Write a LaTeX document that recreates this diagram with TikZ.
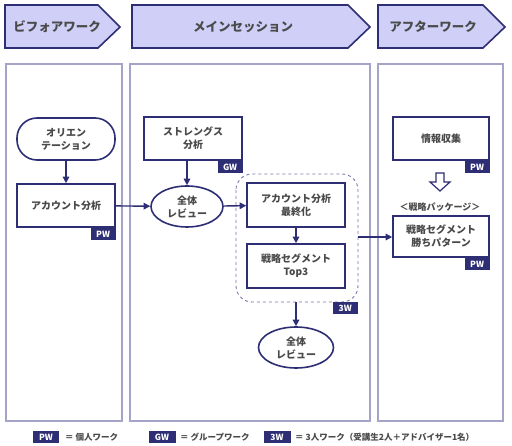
\documentclass[tikz,border=0pt]{standalone}
\usepackage{fontspec}
\setmainfont{Noto Sans CJK JP}
\usetikzlibrary{arrows.meta,shapes.geometric,positioning}
\definecolor{navy}{HTML}{2E2E74}
\definecolor{hdrfill}{HTML}{CFCFF8}
\definecolor{txt}{HTML}{4A4A4A}
\definecolor{panel}{HTML}{A4A4C8}
\definecolor{dash}{HTML}{7878AC}
\tikzset{
  hdr/.style={draw=navy,fill=hdrfill,line width=1.6pt,line join=miter},
  hdrtxt/.style={text=txt,font=\fontsize{12.5}{14}\selectfont\bfseries},
  pnl/.style={draw=panel,line width=1.2pt},
  box/.style={draw=navy,fill=white,line width=1.6pt,minimum width=98pt,minimum height=43pt,inner sep=0pt,align=center,text=txt,font=\fontsize{10}{13}\selectfont\bfseries},
  stadium/.style={box,rounded corners=20pt},
  oval/.style={draw=navy,fill=white,line width=1.6pt,ellipse,inner sep=0pt,align=center,text=txt,font=\fontsize{10}{13}\selectfont\bfseries},
  tag/.style={fill=navy,text=white,minimum width=25pt,minimum height=12pt,inner sep=0pt,font=\fontsize{8.5}{9}\selectfont\bfseries},
  arr/.style={draw=navy,line width=1.4pt,-{Triangle[length=6.5pt,width=6.5pt]}},
  lgd/.style={text=txt,anchor=west,inner sep=0pt,font=\fontsize{8.5}{10}\selectfont\bfseries}
}
\begin{document}
\begin{tikzpicture}[x=1pt,y=-1pt]
\useasboundingbox (0,0) rectangle (512,446);
% headers
\draw[hdr] (5,5) -- (98,5) -- (120,27) -- (98,48) -- (5,48) -- cycle;
\node[hdrtxt] (h1) at (57,27) {ビフォアワーク};
\draw[hdr] (132,5) -- (348,5) -- (370,27) -- (348,48) -- (132,48) -- cycle;
\node[hdrtxt] (h2) at (243,27) {メインセッション};
\draw[hdr] (378,5) -- (483,5) -- (505,27) -- (483,48) -- (378,48) -- cycle;
\node[hdrtxt] (h3) at (433,27) {アフターワーク};
% panels
\draw[pnl] (6,64) rectangle (122,421);
\draw[pnl] (130,64) rectangle (370,421);
\draw[pnl] (378,64) rectangle (503,421);
% dashed group
\draw[draw=dash,line width=0.9pt,dashed,rounded corners=16pt] (236,174) rectangle (358,302);
\coordinate (gS) at (296,302);
\coordinate (gE) at (358,237);
\node[tag,anchor=north east] (t3w) at (358,302) {3W};
% nodes
\node[stadium,minimum height=42pt] (orient) at (66,139) {オリエン\\テーション};
\node[box] (acct) at (66,205.5) {アカウント分析};
\node[tag,anchor=north east] (tacct) at (acct.south east) {PW};
\node[box] (str) at (193,138.5) {ストレングス\\分析};
\node[tag,anchor=north east] (tstr) at (str.south east) {GW};
\node[oval,minimum width=72pt,minimum height=41pt] (rev1) at (187,206.5) {全体\\レビュー};
\node[box,minimum height=44pt] (fin) at (296,205) {アカウント分析\\最終化};
\node[box,minimum height=44pt] (top3) at (296,266) {戦略セグメント\\Top3};
\node[oval,minimum width=75pt,minimum height=41pt] (rev2) at (296,347.5) {全体\\レビュー};
\node[box,minimum width=96pt] (info) at (441,138.5) {情報収集};
\node[tag,anchor=north east] (tinfo) at (info.south east) {PW};
\node[text=txt,font=\fontsize{9}{10}\selectfont\bfseries,inner sep=0pt] (pkg) at (440,207) {＜戦略パッケージ＞};
\node[box,minimum width=96pt,minimum height=41pt] (pat) at (441,236.5) {戦略セグメント\\勝ちパターン};
\node[tag,anchor=north east] (tpat) at (pat.south east) {PW};
% hollow arrow
\draw[draw=navy,fill=white,line width=1.2pt,line join=miter] (436,173) -- (444,173) -- (444,182) -- (450,182) -- (440,191) -- (430,182) -- (436,182) -- cycle;
% connectors
\draw[arr] (orient) -- (acct);
\draw[arr] (acct) -- (rev1);
\draw[arr] (str.south -| rev1.north) -- (rev1.north);
\draw[arr] (rev1) -- (fin);
\draw[arr] (fin) -- (top3);
\draw[arr] (gS) -- (rev2);
\draw[arr] (gE) -- (gE -| pat.west);
% legend
\node[tag,minimum width=26pt] (lpw) at (46,437) {PW};
\node[lgd] (lpwt) at (65,437) {＝ 個人ワーク};
\node[tag,minimum width=27pt] (lgw) at (162,437) {GW};
\node[lgd] (lgwt) at (180,437) {＝ グループワーク};
\node[tag,minimum width=27pt] (l3w) at (277,437) {3W};
\node[lgd] (l3wt) at (295,437) {＝ 3人ワーク（受講生2人＋アドバイザー1名）};
\end{tikzpicture}
\end{document}
